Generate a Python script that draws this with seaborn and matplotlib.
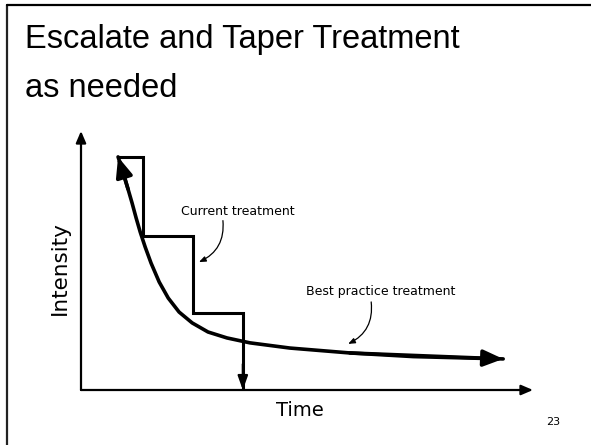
import pandas as pd
import matplotlib.pyplot as plt
from matplotlib.lines import Line2D
import seaborn as sns

# Schematic values (time and intensity on 0-100 scales)
best_time = [8.2, 9.3, 10.4, 11.3, 12.2, 13.1, 14.2, 15.5, 17.3, 19.3, 21.7,
             24.6, 28.1, 32.3, 37.4, 46.2, 59.5, 73.5, 93.4]
best_intensity = [90.0, 84.2, 77.6, 72.2, 66.4, 61.0, 55.2, 49.0, 41.7, 35.5,
                  30.1, 25.9, 22.4, 20.1, 18.2, 16.2, 14.3, 12.9, 12.0]

step_time = [8.2, 13.7, 13.7, 24.8, 24.8, 35.8, 35.8]
step_intensity = [90.0, 90.0, 59.6, 59.6, 29.9, 29.9, 0.0]

title_lines = ['Escalate and Taper Treatment', 'as needed']
x_label = 'Time'
y_label = 'Intensity'
current_label = 'Current treatment'
best_label = 'Best practice treatment'
page_number = '23'

sns.set_style('white')
plt.rcParams['font.family'] = ['DejaVu Sans']
plt.rcParams['text.color'] = 'black'

best = pd.DataFrame({'time': best_time, 'intensity': best_intensity})
step = pd.DataFrame({'time': step_time, 'intensity': step_intensity})

fig = plt.figure(figsize=(5.91, 4.45), dpi=100)
ax = fig.add_axes([81 / 591, 55 / 445, 452 / 591, 259 / 445])
ax.set_xlim(0, 100)
ax.set_ylim(0, 100)
ax.axis('off')

# slide frame (left and top edges)
fig.add_artist(Line2D([7 / 591, 7 / 591], [0, 1 - 5 / 445], transform=fig.transFigure,
                      color='#222222', lw=1.6))
fig.add_artist(Line2D([7 / 591, 1], [1 - 5 / 445, 1 - 5 / 445], transform=fig.transFigure,
                      color='black', lw=1.6))

# axes with arrow heads
axis_arrow = dict(arrowstyle='-|>,head_length=0.7,head_width=0.3', lw=1.6,
                  color='black', shrinkA=0, shrinkB=0, mutation_scale=10)
ax.annotate('', xy=(1, 0), xytext=(0, 0), xycoords='axes fraction', arrowprops=axis_arrow)
ax.annotate('', xy=(0, 1), xytext=(0, 0), xycoords='axes fraction', arrowprops=axis_arrow)

# current treatment: step line
sns.lineplot(data=step, x='time', y='intensity', sort=False, estimator=None,
             color='black', linewidth=2.2, ax=ax, legend=False, solid_joinstyle='miter')
ax.annotate('', xy=(step_time[-1], step_intensity[-1]), xytext=(step_time[-2], 10),
            arrowprops=dict(arrowstyle='-|>,head_length=0.7,head_width=0.25', lw=1.6,
                            color='black', shrinkA=0, shrinkB=0, mutation_scale=12))

# best practice: smooth decay
sns.lineplot(data=best, x='time', y='intensity', sort=False, estimator=None,
             color='black', linewidth=2.6, ax=ax, legend=False)
head = dict(arrowstyle='-|>,head_length=0.6,head_width=0.25', lw=2.6, color='black',
            shrinkA=0, shrinkB=0, mutation_scale=20)
ax.annotate('', xy=(best_time[-1], best_intensity[-1]),
            xytext=(best_time[-3], best_intensity[-3]), arrowprops=head)
ax.annotate('', xy=(best_time[0], best_intensity[0]),
            xytext=(best_time[2], best_intensity[2]), arrowprops=head)

# labels with small curved pointers
small = dict(arrowstyle='-|>,head_length=0.5,head_width=0.2', lw=0.9, color='black',
             shrinkA=0, shrinkB=0, mutation_scale=8, connectionstyle='arc3,rad=-0.35')
ax.text(34.7, 69.1, current_label, ha='center', va='center', fontsize=9)
ax.annotate('', xy=(26.1, 49.4), xytext=(31.4, 65.4), arrowprops=small)
ax.text(66.2, 38.2, best_label, ha='center', va='center', fontsize=9)
ax.annotate('', xy=(59.1, 17.8), xytext=(64.2, 34.0), arrowprops=small)

ax.text(0.485, -0.08, x_label, transform=ax.transAxes, ha='center', va='center', fontsize=14)
ax.text(-0.046, 0.47, y_label, transform=ax.transAxes, ha='center', va='center',
        rotation=90, fontsize=15.5)

fig.text(25 / 591, 1 - 48 / 445, title_lines[0], ha='left', va='baseline', fontsize=23.5,
         family='Liberation Sans')
fig.text(25 / 591, 1 - 97 / 445, title_lines[1], ha='left', va='baseline', fontsize=23.5,
         family='Liberation Sans')
fig.text(553 / 591, 1 - 422 / 445, page_number, ha='center', va='center', fontsize=8)

fig.savefig('out.png', dpi=100)
